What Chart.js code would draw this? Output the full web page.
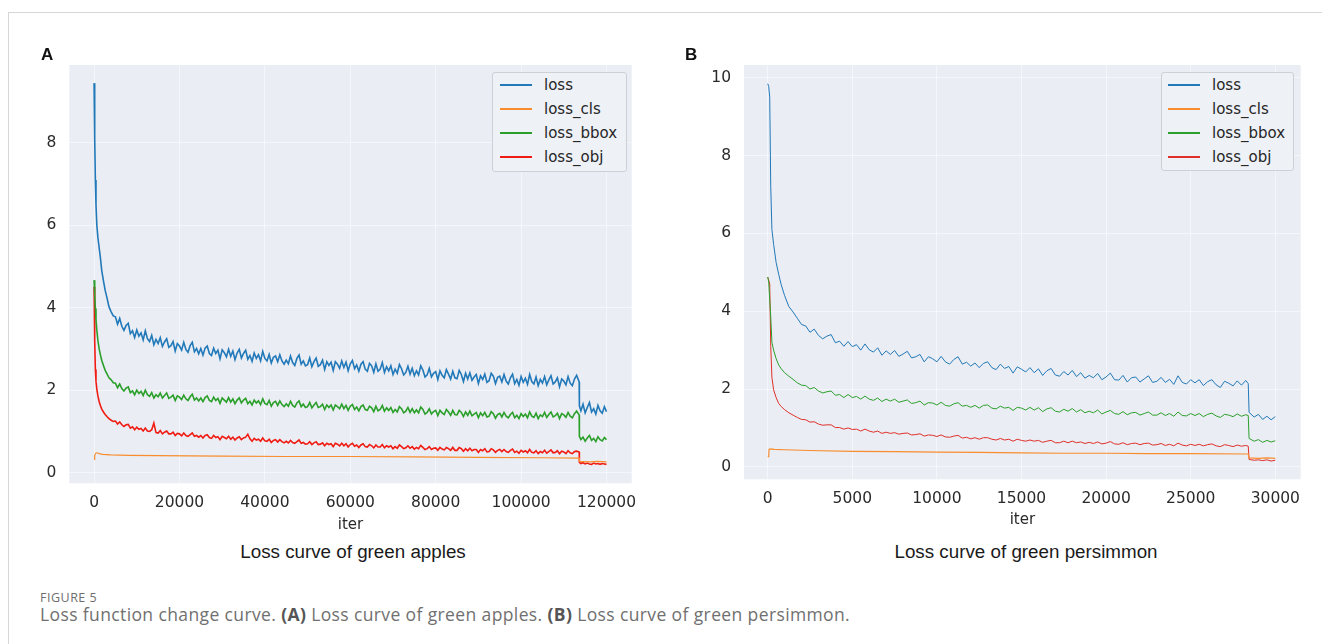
<!DOCTYPE html>
<html lang="en">
<head>
<meta charset="UTF-8">
<title>Loss function change curve</title>
<style>
    html, body { margin: 0; padding: 0; background: #fff; }
    body { width: 1322px; height: 644px; position: relative; overflow: hidden; }
    .frame { position: absolute; left: 8px; top: 12px; right: 0; bottom: 0; border-top: 1px solid #d6d6d6; border-left: 1px solid #d6d6d6; }
    canvas { position: absolute; top: 0; }
    .tag { position: absolute; font: bold 17px "Liberation Sans", Arial, sans-serif; color: #111; line-height: 1; }
    .sub { position: absolute; font: 18.8px "Liberation Sans", Arial, sans-serif; color: #1a1a1a; transform: translate(-50%, -50%); white-space: nowrap; }
    .legend { position: absolute; border: 1px solid #cdd0d6; border-radius: 3px; background: #eef1f6; box-sizing: border-box; }
    .legend .item { height: 24px; display: flex; align-items: center; font: 15px "DejaVu Sans", sans-serif; color: #262626; }
    .legend .swatch { width: 32px; height: 1.5px; margin-right: 12px; }
    .cap-head { position: absolute; left: 40px; top: 590px; font: 12.5px/16px "Open Sans", sans-serif; color: #6e6e6e; letter-spacing: 0.5px; }
    .cap-text { position: absolute; left: 40px; top: 604px; font: 17.5px/20px "Open Sans", sans-serif; color: #707070; letter-spacing: 0.38px; white-space: nowrap; }
    .cap-text b { color: #555; }
</style>
</head>
<body>
<div class="frame"></div>
<canvas id="chartA" width="660" height="540" style="left:0"></canvas>
<canvas id="chartB" width="662" height="540" style="left:660px"></canvas>
<div class="tag" style="left:41px; top:46px">A</div>
<div class="tag" style="left:685px; top:46px">B</div>
<div class="sub" style="left:353px; top:552px">Loss curve of green apples</div>
<div class="sub" style="left:1026px; top:552px">Loss curve of green persimmon</div>
<div class="legend" id="legendA" style="left:492px; top:72px; width:135px; height:100px; padding-left:7px"></div>
<div class="legend" id="legendB" style="left:1161px; top:72px; width:133px; height:99px; padding-left:6px"></div>
<div class="cap-head">FIGURE 5</div>
<div class="cap-text">Loss function change curve. <b>(A)</b> Loss curve of green apples. <b>(B)</b> Loss curve of green persimmon.</div>

<script src="https://cdn.jsdelivr.net/npm/chart.js"></script>
<script>
    // ---------- panel A : green apples (logged every 500 iter) ----------
    const iterA = [
        0, 150, 300, 450, 650, 900, 1200, 1500, 1800, 2200, 2600, 3000, 3500, 4000, 4500,
        5000, 5500, 6000, 6500, 7000, 7500, 8000, 8500, 9000, 9500, 10000, 10500, 11000, 11500, 12000, 12500, 13000, 13500, 14000, 14500,
        15000, 15500, 16000, 16500, 17000, 17500, 18000, 18500, 19000, 19500, 20000, 20500, 21000, 21500, 22000, 22500, 23000, 23500, 24000, 24500,
        25000, 25500, 26000, 26500, 27000, 27500, 28000, 28500, 29000, 29500, 30000, 30500, 31000, 31500, 32000, 32500, 33000, 33500, 34000, 34500,
        35000, 35500, 36000, 36500, 37000, 37500, 38000, 38500, 39000, 39500, 40000, 40500, 41000, 41500, 42000, 42500, 43000, 43500, 44000, 44500,
        45000, 45500, 46000, 46500, 47000, 47500, 48000, 48500, 49000, 49500, 50000, 50500, 51000, 51500, 52000, 52500, 53000, 53500, 54000, 54500,
        55000, 55500, 56000, 56500, 57000, 57500, 58000, 58500, 59000, 59500, 60000, 60500, 61000, 61500, 62000, 62500, 63000, 63500, 64000, 64500,
        65000, 65500, 66000, 66500, 67000, 67500, 68000, 68500, 69000, 69500, 70000, 70500, 71000, 71500, 72000, 72500, 73000, 73500, 74000, 74500,
        75000, 75500, 76000, 76500, 77000, 77500, 78000, 78500, 79000, 79500, 80000, 80500, 81000, 81500, 82000, 82500, 83000, 83500, 84000, 84500,
        85000, 85500, 86000, 86500, 87000, 87500, 88000, 88500, 89000, 89500, 90000, 90500, 91000, 91500, 92000, 92500, 93000, 93500, 94000, 94500,
        95000, 95500, 96000, 96500, 97000, 97500, 98000, 98500, 99000, 99500, 100000, 100500, 101000, 101500, 102000, 102500, 103000, 103500, 104000, 104500,
        105000, 105500, 106000, 106500, 107000, 107500, 108000, 108500, 109000, 109500, 110000, 110500, 111000, 111500, 112000, 112500, 113000,
        113600, 113650, 114000, 114500, 115000, 115500, 116000, 116500, 117000, 117500, 118000, 118500, 119000, 119500, 120000
    ];
    const lossA = [
        9.45, 8.1, 7.1, 6.5, 6.0, 5.7, 5.45, 5.2, 4.9, 4.65, 4.42, 4.25, 4.02, 3.9, 3.8,
        3.78, 3.60, 3.74, 3.55, 3.45, 3.57, 3.62, 3.37, 3.44, 3.28, 3.46, 3.31, 3.39, 3.22, 3.44, 3.25, 3.18, 3.33, 3.10, 3.23,
        3.13, 3.27, 3.06, 3.17, 3.25, 3.04, 3.08, 3.18, 2.95, 3.13, 3.07, 2.97, 3.16, 2.99, 2.92, 3.08, 3.16, 2.93, 3.01, 2.88,
        3.01, 2.85, 3.02, 3.07, 2.89, 2.84, 3.02, 2.89, 2.97, 2.76, 2.98, 2.91, 2.81, 2.99, 2.82, 2.95, 2.74, 2.90, 2.99, 2.78,
        2.89, 2.97, 2.75, 2.84, 2.70, 2.90, 2.77, 2.86, 2.71, 2.94, 2.77, 2.71, 2.87, 2.66, 2.80, 2.83, 2.69, 2.86, 2.71, 2.63,
        2.73, 2.64, 2.83, 2.67, 2.60, 2.77, 2.85, 2.63, 2.71, 2.59, 2.62, 2.78, 2.57, 2.69, 2.78, 2.58, 2.62, 2.73, 2.50, 2.69,
        2.60, 2.68, 2.48, 2.69, 2.63, 2.53, 2.71, 2.55, 2.68, 2.47, 2.64, 2.72, 2.52, 2.61, 2.46, 2.63, 2.69, 2.51, 2.46, 2.65,
        2.59, 2.43, 2.64, 2.46, 2.51, 2.67, 2.43, 2.57, 2.47, 2.59, 2.38, 2.51, 2.41, 2.62, 2.52, 2.37, 2.43, 2.58, 2.39, 2.53,
        2.35, 2.47, 2.37, 2.59, 2.49, 2.32, 2.37, 2.53, 2.32, 2.41, 2.45, 2.26, 2.47, 2.36, 2.30, 2.50, 2.39, 2.27, 2.46, 2.30,
        2.28, 2.48, 2.38, 2.21, 2.41, 2.27, 2.42, 2.24, 2.32, 2.38, 2.16, 2.35, 2.26, 2.39, 2.19, 2.23, 2.41, 2.34, 2.16, 2.31,
        2.34, 2.20, 2.38, 2.22, 2.15, 2.30, 2.39, 2.16, 2.26, 2.12, 2.33, 2.19, 2.29, 2.14, 2.38, 2.21, 2.15, 2.32, 2.11, 2.26,
        2.17, 2.33, 2.13, 2.25, 2.35, 2.15, 2.20, 2.30, 2.08, 2.27, 2.22, 2.13, 2.33, 2.17, 2.11, 2.27, 2.36,
        2.20, 1.62, 1.50, 1.66, 1.45, 1.58, 1.70, 1.47, 1.55, 1.42, 1.63, 1.50, 1.44, 1.60, 1.48
    ];
    const bboxA = [
        4.67, 4.3, 3.98, 3.72, 3.45, 3.2, 3.0, 2.85, 2.72, 2.6, 2.48, 2.4, 2.3, 2.25, 2.18,
        2.17, 2.06, 2.15, 2.04, 1.98, 2.05, 2.08, 1.94, 1.98, 1.89, 2.00, 1.92, 1.97, 1.87, 2.00, 1.89, 1.85, 1.94, 1.81, 1.89,
        1.84, 1.93, 1.81, 1.87, 1.93, 1.80, 1.83, 1.88, 1.75, 1.86, 1.83, 1.77, 1.88, 1.79, 1.75, 1.84, 1.90, 1.76, 1.81, 1.74,
        1.81, 1.72, 1.82, 1.86, 1.75, 1.72, 1.83, 1.75, 1.80, 1.68, 1.81, 1.76, 1.71, 1.82, 1.71, 1.79, 1.67, 1.76, 1.81, 1.69,
        1.76, 1.80, 1.67, 1.73, 1.64, 1.76, 1.69, 1.74, 1.65, 1.79, 1.68, 1.65, 1.75, 1.61, 1.70, 1.73, 1.63, 1.74, 1.65, 1.60,
        1.67, 1.61, 1.73, 1.63, 1.59, 1.69, 1.74, 1.60, 1.66, 1.58, 1.60, 1.70, 1.57, 1.64, 1.70, 1.58, 1.60, 1.66, 1.53, 1.64,
        1.58, 1.64, 1.52, 1.64, 1.60, 1.55, 1.66, 1.55, 1.63, 1.51, 1.61, 1.65, 1.53, 1.59, 1.50, 1.60, 1.64, 1.53, 1.51, 1.61,
        1.57, 1.48, 1.61, 1.50, 1.53, 1.63, 1.49, 1.57, 1.51, 1.58, 1.46, 1.53, 1.47, 1.60, 1.55, 1.45, 1.49, 1.58, 1.46, 1.55,
        1.45, 1.52, 1.45, 1.59, 1.53, 1.42, 1.46, 1.55, 1.42, 1.48, 1.51, 1.38, 1.51, 1.45, 1.41, 1.53, 1.47, 1.39, 1.51, 1.41,
        1.40, 1.51, 1.46, 1.36, 1.47, 1.39, 1.49, 1.38, 1.42, 1.46, 1.33, 1.45, 1.38, 1.46, 1.35, 1.37, 1.48, 1.43, 1.32, 1.41,
        1.44, 1.35, 1.46, 1.37, 1.33, 1.41, 1.46, 1.33, 1.39, 1.31, 1.43, 1.36, 1.42, 1.33, 1.47, 1.37, 1.34, 1.44, 1.31, 1.40,
        1.36, 1.46, 1.34, 1.41, 1.47, 1.35, 1.38, 1.44, 1.31, 1.43, 1.40, 1.34, 1.46, 1.37, 1.33, 1.43, 1.49,
        1.40, 0.88, 0.80, 0.86, 0.76, 0.84, 0.90, 0.78, 0.83, 0.75, 0.87, 0.80, 0.77, 0.85, 0.80
    ];
    const objA = [
        4.51, 3.2, 2.5, 2.22, 2.02, 1.86, 1.72, 1.62, 1.54, 1.47, 1.41, 1.36, 1.31, 1.27, 1.24,
        1.25, 1.18, 1.23, 1.16, 1.12, 1.16, 1.17, 1.08, 1.11, 1.04, 1.10, 1.05, 1.07, 1.01, 1.08, 1.01, 1.00, 1.04, 1.20, 0.97,
        0.96, 1.02, 0.94, 0.98, 1.01, 0.94, 0.94, 0.98, 0.90, 0.95, 0.94, 0.89, 0.96, 0.90, 0.88, 0.92, 0.96, 0.88, 0.90, 0.86,
        0.90, 0.84, 0.90, 0.92, 0.85, 0.83, 0.90, 0.85, 0.87, 0.80, 0.88, 0.85, 0.82, 0.88, 0.81, 0.86, 0.79, 0.84, 0.87, 0.80,
        0.84, 0.86, 0.93, 0.82, 0.76, 0.83, 0.79, 0.81, 0.76, 0.84, 0.77, 0.76, 0.81, 0.73, 0.78, 0.80, 0.74, 0.80, 0.75, 0.72,
        0.76, 0.72, 0.78, 0.73, 0.71, 0.75, 0.79, 0.71, 0.73, 0.69, 0.70, 0.75, 0.68, 0.72, 0.75, 0.68, 0.69, 0.72, 0.65, 0.71,
        0.68, 0.70, 0.63, 0.71, 0.69, 0.65, 0.71, 0.65, 0.70, 0.62, 0.68, 0.71, 0.64, 0.67, 0.61, 0.67, 0.70, 0.63, 0.62, 0.68,
        0.65, 0.60, 0.67, 0.62, 0.62, 0.68, 0.60, 0.65, 0.62, 0.65, 0.58, 0.63, 0.59, 0.67, 0.63, 0.58, 0.60, 0.65, 0.59, 0.63,
        0.57, 0.61, 0.58, 0.66, 0.61, 0.56, 0.58, 0.63, 0.56, 0.59, 0.60, 0.54, 0.61, 0.57, 0.55, 0.61, 0.58, 0.54, 0.61, 0.54,
        0.54, 0.61, 0.58, 0.52, 0.58, 0.53, 0.59, 0.53, 0.56, 0.56, 0.49, 0.56, 0.53, 0.58, 0.50, 0.51, 0.58, 0.55, 0.49, 0.54,
        0.56, 0.51, 0.56, 0.51, 0.49, 0.54, 0.57, 0.49, 0.52, 0.47, 0.54, 0.50, 0.53, 0.48, 0.56, 0.49, 0.48, 0.53, 0.46, 0.51,
        0.48, 0.54, 0.47, 0.51, 0.55, 0.48, 0.49, 0.53, 0.46, 0.52, 0.50, 0.46, 0.53, 0.48, 0.46, 0.51, 0.52,
        0.50, 0.25, 0.22, 0.24, 0.21, 0.23, 0.21, 0.20, 0.23, 0.21, 0.22, 0.20, 0.22, 0.21, 0.20
    ];
    const iterClsA = [0, 150, 400, 700, 1200, 2000, 4000, 8000, 15000, 30000, 45000, 60000, 75000, 90000, 105000, 113600, 113650, 116000, 118000, 120000];
    const clsA = [0.32, 0.42, 0.47, 0.48, 0.46, 0.44, 0.43, 0.42, 0.41, 0.40, 0.39, 0.39, 0.38, 0.37, 0.36, 0.35, 0.27, 0.26, 0.27, 0.26];
    const xTicksA = [0, 20000, 40000, 60000, 80000, 100000, 120000];
    const yTicksA = [0, 2, 4, 6, 8];

    // ---------- panel B : green persimmon (logged every 250 iter) ----------
    const iterB = [
        0, 60, 120, 180, 250, 350, 500, 650, 800, 1000, 1250, 1500, 1750, 2000,
        2250, 2500, 2750, 3000, 3250, 3500, 3750, 4000,
        4250, 4500, 4750, 5000, 5250, 5500, 5750, 6000,
        6250, 6500, 6750, 7000, 7250, 7500, 7750, 8000,
        8250, 8500, 8750, 9000, 9250, 9500, 9750, 10000,
        10250, 10500, 10750, 11000, 11250, 11500, 11750, 12000,
        12250, 12500, 12750, 13000, 13250, 13500, 13750, 14000,
        14250, 14500, 14750, 15000, 15250, 15500, 15750, 16000,
        16250, 16500, 16750, 17000, 17250, 17500, 17750, 18000,
        18250, 18500, 18750, 19000, 19250, 19500, 19750, 20000,
        20250, 20500, 20750, 21000, 21250, 21500, 21750, 22000,
        22250, 22500, 22750, 23000, 23250, 23500, 23750, 24000,
        24250, 24500, 24750, 25000, 25250, 25500, 25750, 26000,
        26250, 26500, 26750, 27000, 27250, 27500, 27750, 28000,
        28250,
        28400, 28450, 28750, 29000, 29250, 29500, 29750, 30000
    ];
    const lossB = [
        9.85, 9.78, 9.5, 7.2, 6.1, 5.72, 5.25, 4.95, 4.68, 4.4, 4.12, 3.98, 3.82, 3.66,
        3.62, 3.46, 3.54, 3.38, 3.29, 3.36, 3.40, 3.19,
        3.23, 3.10, 3.22, 3.09, 3.14, 3.00, 3.16, 3.01,
        2.95, 3.06, 2.87, 2.98, 2.89, 2.99, 2.84, 2.90,
        2.97, 2.80, 2.83, 2.89, 2.70, 2.83, 2.78, 2.70,
        2.84, 2.70, 2.64, 2.76, 2.83, 2.64, 2.69, 2.59,
        2.67, 2.55, 2.66, 2.70, 2.55, 2.50, 2.64, 2.53,
        2.58, 2.41, 2.57, 2.51, 2.44, 2.55, 2.42, 2.52,
        2.35, 2.47, 2.53, 2.36, 2.33, 2.45, 2.36, 2.48,
        2.32, 2.42, 2.28, 2.35, 2.29, 2.40, 2.24, 2.31,
        2.41, 2.24, 2.23, 2.35, 2.18, 2.29, 2.31, 2.18,
        2.26, 2.34, 2.17, 2.20, 2.30, 2.17, 2.25, 2.12,
        2.34, 2.17, 2.13, 2.24, 2.16, 2.24, 2.09, 2.19,
        2.24, 2.11, 2.04, 2.20, 2.15, 2.08, 2.21, 2.10,
        2.22,
        2.14, 1.40, 1.28, 1.35, 1.22, 1.30, 1.21, 1.29
    ];
    const bboxB = [
        4.88, 4.75, 4.3, 3.85, 3.2, 3.0, 2.78, 2.62, 2.52, 2.42, 2.33, 2.25, 2.16, 2.10,
        2.09, 2.00, 2.04, 1.95, 1.90, 1.93, 1.95, 1.84,
        1.86, 1.78, 1.86, 1.78, 1.81, 1.74, 1.82, 1.74,
        1.71, 1.77, 1.68, 1.74, 1.69, 1.74, 1.66, 1.69,
        1.72, 1.63, 1.65, 1.69, 1.59, 1.65, 1.64, 1.59,
        1.66, 1.58, 1.56, 1.62, 1.65, 1.56, 1.58, 1.53,
        1.58, 1.51, 1.58, 1.59, 1.51, 1.49, 1.56, 1.51,
        1.53, 1.45, 1.53, 1.51, 1.46, 1.53, 1.46, 1.52,
        1.42, 1.49, 1.52, 1.43, 1.41, 1.48, 1.43, 1.50,
        1.41, 1.47, 1.39, 1.43, 1.39, 1.46, 1.36, 1.41,
        1.45, 1.37, 1.35, 1.42, 1.34, 1.39, 1.40, 1.33,
        1.37, 1.41, 1.33, 1.33, 1.39, 1.32, 1.37, 1.30,
        1.41, 1.32, 1.31, 1.37, 1.32, 1.37, 1.29, 1.35,
        1.38, 1.31, 1.27, 1.35, 1.33, 1.29, 1.36, 1.30,
        1.34,
        1.32, 0.73, 0.66, 0.70, 0.63, 0.68, 0.64, 0.67
    ];
    const objB = [
        4.88, 4.8, 4.7, 3.1, 2.3, 1.98, 1.78, 1.63, 1.55, 1.47, 1.39, 1.33, 1.27, 1.22,
        1.21, 1.15, 1.16, 1.10, 1.07, 1.08, 1.08, 1.01,
        1.01, 0.97, 1.00, 0.96, 0.97, 0.92, 0.97, 0.92,
        0.89, 0.92, 0.86, 0.89, 0.86, 0.88, 0.84, 0.86,
        0.87, 0.82, 0.83, 0.85, 0.79, 0.82, 0.81, 0.78,
        0.82, 0.77, 0.76, 0.79, 0.81, 0.74, 0.76, 0.72,
        0.75, 0.71, 0.75, 0.75, 0.71, 0.69, 0.73, 0.69,
        0.71, 0.66, 0.71, 0.68, 0.66, 0.69, 0.66, 0.68,
        0.63, 0.66, 0.68, 0.62, 0.62, 0.66, 0.62, 0.66,
        0.62, 0.64, 0.60, 0.63, 0.60, 0.64, 0.59, 0.61,
        0.65, 0.59, 0.58, 0.62, 0.57, 0.60, 0.61, 0.57,
        0.60, 0.61, 0.56, 0.57, 0.60, 0.55, 0.58, 0.54,
        0.61, 0.56, 0.54, 0.58, 0.55, 0.58, 0.54, 0.57,
        0.59, 0.54, 0.52, 0.57, 0.55, 0.52, 0.56, 0.53,
        0.55,
        0.53, 0.19, 0.17, 0.18, 0.16, 0.18, 0.15, 0.17
    ];
    const iterClsB = [0, 60, 80, 150, 400, 1000, 2500, 5000, 7500, 10000, 12500, 15000, 17500, 20000, 22500, 25000, 28400, 28450, 29000, 29500, 30000];
    const clsB = [0.26, 0.26, 0.45, 0.46, 0.45, 0.44, 0.42, 0.40, 0.39, 0.38, 0.37, 0.36, 0.35, 0.35, 0.34, 0.34, 0.33, 0.23, 0.22, 0.23, 0.22];
    const xTicksB = [0, 5000, 10000, 15000, 20000, 25000, 30000];
    const yTicksB = [0, 2, 4, 6, 8, 10];

    const seriesNames = ['loss', 'loss_cls', 'loss_bbox', 'loss_obj'];

    // pair up x and y arrays for a linear x axis
    function pts(xs, ys) {
        return xs.map((x, i) => ({ x: x, y: ys[i] }));
    }

    // seaborn-like grey plot area
    const plotBg = {
        id: 'plotBg',
        beforeDraw(chart) {
            const { ctx, chartArea: a } = chart;
            ctx.save();
            ctx.fillStyle = '#eaedf3';
            ctx.fillRect(a.left, a.top, a.right - a.left, a.bottom - a.top);
            ctx.restore();
        }
    };

    const tickFont = { family: '"DejaVu Sans", sans-serif', size: 15.5 };
    const gridCol = 'rgba(255,255,255,0.5)';

    function makeChart(id, p) {
        const ctx = document.getElementById(id).getContext('2d');
        return new Chart(ctx, {
            type: 'line',
            data: {
                datasets: [
                    { label: seriesNames[0], data: pts(p.iter, p.loss), borderColor: p.colors[0], borderWidth: p.width },
                    { label: seriesNames[1], data: pts(p.iterCls, p.cls), borderColor: p.colors[1], borderWidth: 1.2 },
                    { label: seriesNames[2], data: pts(p.iter, p.bbox), borderColor: p.colors[2], borderWidth: p.width },
                    { label: seriesNames[3], data: pts(p.iter, p.obj), borderColor: p.colors[3], borderWidth: p.width }
                ]
            },
            options: {
                responsive: false,
                animation: false,
                events: [],
                elements: { point: { radius: 0 }, line: { tension: 0 } },
                layout: { padding: { top: 65, right: p.padRight, left: 0, bottom: 0 } },
                plugins: { legend: { display: false }, tooltip: { enabled: false } },
                scales: {
                    x: {
                        type: 'linear',
                        min: p.xMin, max: p.xMax,
                        border: { display: false },
                        grid: { color: gridCol, lineWidth: 1, drawTicks: false },
                        ticks: { font: tickFont, color: '#2a2a2a', padding: 10, maxRotation: 0, callback: v => String(v) },
                        title: { display: true, text: 'iter', font: { family: '"DejaVu Sans", sans-serif', size: 15 }, color: '#2a2a2a', padding: { top: 0, bottom: p.titlePad } },
                        afterBuildTicks: s => { s.ticks = p.xTicks.map(v => ({ value: v })); },
                        afterFit: s => { s.height = p.xAxisH; }
                    },
                    y: {
                        min: p.yMin, max: p.yMax,
                        border: { display: false },
                        grid: { color: gridCol, lineWidth: 1, drawTicks: false },
                        ticks: { font: tickFont, color: '#2a2a2a', padding: 13, callback: v => String(v) },
                        afterBuildTicks: s => { s.ticks = p.yTicks.map(v => ({ value: v })); },
                        afterFit: s => { s.width = p.yAxisW; }
                    }
                }
            },
            plugins: [plotBg]
        });
    }

    // legend box built as html from the chart datasets
    function buildLegend(chart, boxId) {
        const box = document.getElementById(boxId);
        chart.data.datasets.forEach(ds => {
            const row = document.createElement('div');
            row.className = 'item';
            const sw = document.createElement('span');
            sw.className = 'swatch';
            sw.style.backgroundColor = ds.borderColor;
            const txt = document.createElement('span');
            txt.textContent = ds.label;
            row.appendChild(sw);
            row.appendChild(txt);
            box.appendChild(row);
        });
    }

    const chartA = makeChart('chartA', {
        iter: iterA, loss: lossA, bbox: bboxA, obj: objA, iterCls: iterClsA, cls: clsA,
        colors: ['#2179b9', '#f98d2e', '#2a9f2a', '#f01c14'], width: 1.6,
        xMin: -5800, xMax: 125900, yMin: -0.26, yMax: 9.89,
        xTicks: xTicksA, yTicks: yTicksA,
        padRight: 28.3, yAxisW: 69.3, xAxisH: 56.7, titlePad: 6
    });
    const chartB = makeChart('chartB', {
        iter: iterB, loss: lossB, bbox: bboxB, obj: objB, iterCls: iterClsB, cls: clsB,
        colors: ['#2179b9', '#f98d2e', '#2ca02c', '#e0302a'], width: 1.0,
        xMin: -1400, xMax: 31500, yMin: -0.32, yMax: 10.33,
        xTicks: xTicksB, yTicks: yTicksB,
        padRight: 21.3, yAxisW: 84, xAxisH: 60.7, titlePad: 11
    });

    buildLegend(chartA, 'legendA');
    buildLegend(chartB, 'legendB');
</script>
</body>
</html>
